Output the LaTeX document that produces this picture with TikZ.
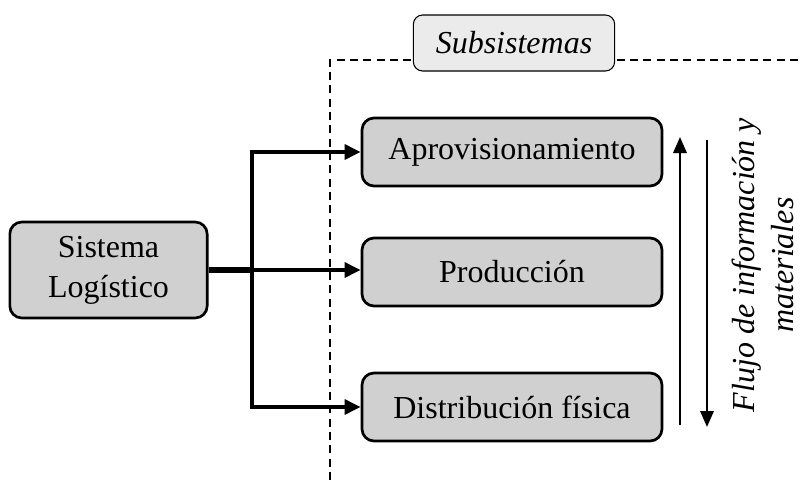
\documentclass[tikz,border=0pt]{standalone}
\usepackage{fontspec}
\setmainfont{Liberation Serif}
\usepackage{tikz}
\usetikzlibrary{arrows.meta}
\definecolor{boxgray}{HTML}{D0D0D0}
\definecolor{tabgray}{HTML}{EBEBEB}

\begin{document}
\begin{tikzpicture}[x=0.75pt, y=-0.75pt, font=\fontsize{24}{30}\selectfont,
		caja/.style={draw, line width=2pt, fill=boxgray, rounded corners=9pt, align=center},
		flecha/.style={line width=3pt, -{Triangle[length=12pt, width=11pt]}}]
		\useasboundingbox (0,0) rectangle (801,482);
		% limite de los subsistemas
		\draw[line width=1pt, dash pattern=on 6pt off 4pt] (330,480) -- (330,60) -- (801,60);
		\node[draw, line width=0.8pt, fill=tabgray, rounded corners=7pt, minimum width=151pt, minimum height=42pt, font=\fontsize{24}{30}\selectfont\itshape] (sub) at (514,43) {Subsistemas};
		% cajas
		\node[caja, minimum width=148pt, minimum height=72pt] (sistema) at (108.5,270) {Sistema\\Logístico};
		\node[caja, minimum width=225pt, minimum height=51pt] (aprov) at (512,152) {Aprovisionamiento};
		\node[caja, minimum width=225pt, minimum height=51pt] (prod) at (512,272) {Producción};
		\node[caja, minimum width=225pt, minimum height=51pt] (distr) at (512,407) {Distribución física};
		% conexiones
		\coordinate (rama) at (252,270);
		\draw[line width=5pt] (sistema.east) -- (rama);
		\draw[flecha] (rama) -- (prod.west |- rama);
		\draw[flecha] (rama) |- (aprov.west);
		\draw[flecha] (rama) |- (distr.west);
		% flujo
		\coordinate (sube0) at (680,425);
		\coordinate (sube1) at (680,137);
		\coordinate (baja0) at (707,140);
		\coordinate (baja1) at (707,427);
		\draw[line width=1.8pt, -{Triangle[length=12pt, width=10pt]}] (sube0) -- (sube1);
		\draw[line width=1.8pt, -{Triangle[length=12pt, width=10pt]}] (baja0) -- (baja1);
		\node[rotate=90, align=center, font=\fontsize{24}{29}\selectfont\itshape] (flujo) at (763,265) {Flujo de información y\\materiales};
	\end{tikzpicture}
\end{document}
